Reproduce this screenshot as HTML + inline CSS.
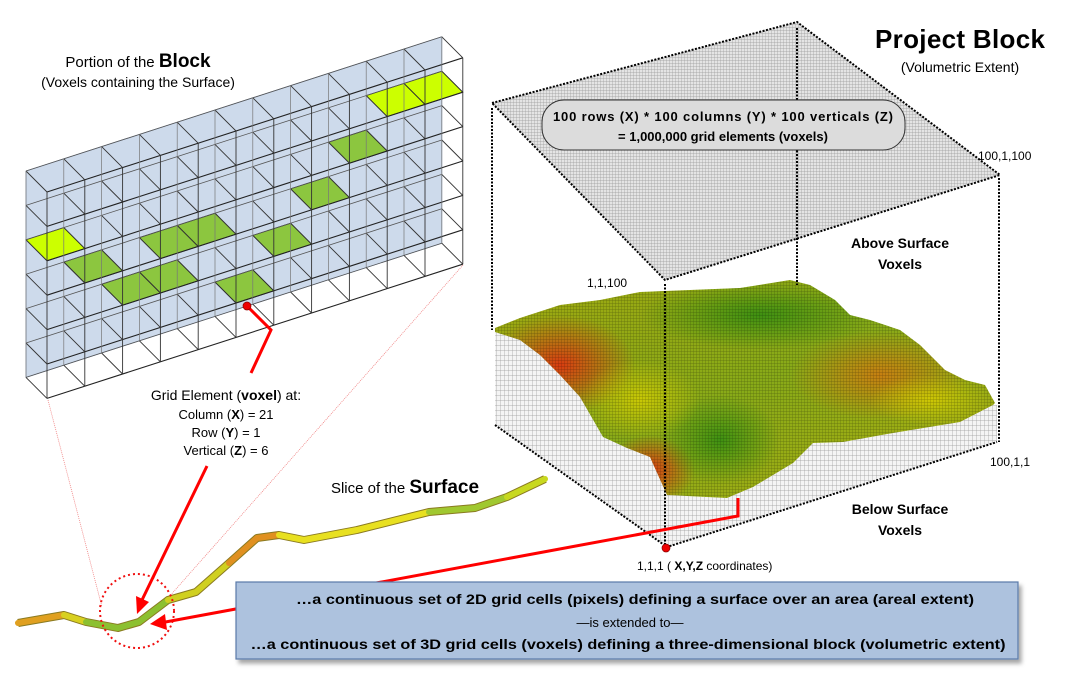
<!DOCTYPE html>
<html><head><meta charset="utf-8"><style>
html,body{margin:0;padding:0;background:#fff;}
svg{display:block;font-family:"Liberation Sans",Arial,sans-serif;}
</style></head><body>
<svg id="s" width="1068" height="678" viewBox="0 0 1068 678" xmlns="http://www.w3.org/2000/svg">
<defs>
<pattern id="mesh" width="3" height="3" patternUnits="userSpaceOnUse"><rect width="3" height="3" fill="#e4e4e4"/><path d="M0 0H3M0 0V3" stroke="#9a9a9a" stroke-width="0.7"/></pattern>
<pattern id="wall" width="4" height="5" patternUnits="userSpaceOnUse"><rect width="4" height="5" fill="#f4f4f4"/><path d="M0 0H4M0 0V5" stroke="#999" stroke-width="0.7"/></pattern>
<pattern id="tmesh" width="3" height="3" patternUnits="userSpaceOnUse"><path d="M0 0H3M0 0V3" stroke="#000" stroke-width="0.7" opacity="0.35"/></pattern>
<linearGradient id="tg" x1="0" y1="0" x2="1" y2="1"><stop offset="0" stop-color="#a0a810"/><stop offset="0.5" stop-color="#88aa18"/><stop offset="1" stop-color="#b0b010"/></linearGradient>
<radialGradient id="red"><stop offset="0" stop-color="#e03010" stop-opacity="0.9"/><stop offset="1" stop-color="#e03010" stop-opacity="0"/></radialGradient>
<radialGradient id="org"><stop offset="0" stop-color="#d07810" stop-opacity="0.85"/><stop offset="1" stop-color="#d07810" stop-opacity="0"/></radialGradient>
<radialGradient id="grn"><stop offset="0" stop-color="#2a8a10" stop-opacity="0.8"/><stop offset="1" stop-color="#2a8a10" stop-opacity="0"/></radialGradient>
<radialGradient id="yel"><stop offset="0" stop-color="#d8d000" stop-opacity="0.8"/><stop offset="1" stop-color="#d8d000" stop-opacity="0"/></radialGradient>
<clipPath id="tc"><polygon points="495,328 520,318 560,305 600,300 640,292 690,290 740,288 790,280 810,285 835,300 850,315 870,320 900,330 920,345 945,370 965,380 985,385 995,403 993,405 960,422 893,433 843,442 813,443 793,463 753,487 727,498 667,495 650,457 627,448 603,437 580,397 560,375 540,355 520,340 495,332"/></clipPath>
<filter id="sh" x="-5%" y="-20%" width="110%" height="150%"><feDropShadow dx="3" dy="4" stdDeviation="2" flood-color="#000" flood-opacity="0.35"/></filter>
</defs>
<rect width="1068" height="678" fill="#fff"/>
<g id="grid"></g>
<line x1="48" y1="400" x2="102" y2="607" stroke="#f08080" stroke-width="0.8" stroke-dasharray="1,1"/>
<line x1="463" y1="265" x2="168" y2="598" stroke="#f08080" stroke-width="0.8" stroke-dasharray="1,1"/>
<polygon points="495,330 520,340 540,355 560,375 580,397 603,437 627,448 650,457 667,495 667,547 495,425" fill="url(#wall)"/>
<polygon points="667,495 727,498 753,487 793,463 813,443 843,442 893,433 960,422 993,405 997,405 997,442 667,547" fill="url(#wall)"/>
<g clip-path="url(#tc)">
<rect x="490" y="275" width="510" height="230" fill="url(#tg)"/>
<ellipse cx="560" cy="365" rx="75" ry="50" fill="url(#red)"/>
<ellipse cx="650" cy="470" rx="45" ry="35" fill="url(#red)"/>
<ellipse cx="880" cy="375" rx="90" ry="45" fill="url(#org)"/>
<ellipse cx="760" cy="315" rx="120" ry="35" fill="url(#grn)"/>
<ellipse cx="720" cy="440" rx="60" ry="45" fill="url(#grn)"/>
<ellipse cx="640" cy="400" rx="60" ry="40" fill="url(#yel)"/>
<ellipse cx="930" cy="400" rx="60" ry="25" fill="url(#yel)"/>
<rect x="490" y="275" width="510" height="230" fill="url(#tmesh)"/>
</g>
<polygon points="492,103 797,22 1000,175 665,280" fill="url(#mesh)"/>
<polygon points="492,103 797,22 1000,175 665,280" fill="none" stroke="#000" stroke-width="2" stroke-dasharray="2,1.5"/>
<g stroke="#000" stroke-width="2" stroke-dasharray="2,1.5" fill="none">
<line x1="492" y1="108" x2="492" y2="330"/>
<line x1="797" y1="28" x2="797" y2="285"/>
<line x1="999" y1="178" x2="999" y2="442"/>
<line x1="665" y1="284" x2="665" y2="548"/>
<polyline points="495,425 667,547 997,442"/>
</g>
<rect x="542" y="100" width="363" height="50" rx="22" fill="#dcdcdc" stroke="#333" stroke-width="1"/>
<text x="723" y="121" font-size="13" font-weight="bold" text-anchor="middle" textLength="340">100 rows (X) * 100 columns (Y) * 100 verticals (Z)</text>
<text x="723" y="141" font-size="13" font-weight="bold" text-anchor="middle">= 1,000,000 grid elements (voxels)</text>
<text x="960" y="48" font-size="26" font-weight="bold" text-anchor="middle" textLength="170">Project Block</text>
<text x="960" y="72" font-size="14" text-anchor="middle">(Volumetric Extent)</text>
<text x="978" y="160" font-size="12">100,1,100</text>
<text x="587" y="287" font-size="12">1,1,100</text>
<text x="990" y="466" font-size="12">100,1,1</text>
<text x="900" y="248" font-size="14" font-weight="bold" text-anchor="middle">Above Surface</text>
<text x="900" y="269" font-size="14" font-weight="bold" text-anchor="middle">Voxels</text>
<text x="900" y="514" font-size="14" font-weight="bold" text-anchor="middle">Below Surface</text>
<text x="900" y="535" font-size="14" font-weight="bold" text-anchor="middle">Voxels</text>
<text x="637" y="570" font-size="12">1,1,1 ( <tspan font-weight="bold">X,Y,Z</tspan> coordinates)</text>
<polyline points="18,623 64,615 86,622 118,628 139,622 168,600 196,592 229,563 257,538 279,535 304,540 357,530 429,512 475,508 507,497 545,479" fill="none" stroke="#8a7a20" stroke-width="8" stroke-linejoin="round"/>
<g fill="none" stroke-width="6" stroke-linejoin="round" stroke-linecap="round">
<polyline points="18,623 64,615" stroke="#e0a020"/>
<polyline points="64,615 86,622" stroke="#d8d020"/>
<polyline points="86,622 118,628 139,622 168,600" stroke="#8cc030"/>
<polyline points="168,600 196,592 229,563" stroke="#d0d020"/>
<polyline points="229,563 257,538 279,535" stroke="#e09020"/>
<polyline points="279,535 304,540 357,530 429,512" stroke="#e8e020"/>
<polyline points="429,512 475,508 507,497" stroke="#a0c830"/>
<polyline points="507,497 545,479" stroke="#c8d820"/>
</g>
<circle cx="137" cy="611" r="37" fill="none" stroke="#f01010" stroke-width="2" stroke-dasharray="2,3"/>
<text x="405" y="493" font-size="15" text-anchor="middle">Slice of the <tspan font-size="19" font-weight="bold">Surface</tspan></text>
<g stroke="#f00" stroke-width="3" fill="none">
<polyline points="738,498 738,516 160,623"/>
<line x1="207" y1="466" x2="142" y2="600"/>
<polyline points="247,306 271,330 251,373"/>
</g>
<polygon points="137,614 136,596 149,602" fill="#f00"/>
<polygon points="150,624 165,614 167,630" fill="#f00"/>
<circle cx="247" cy="306" r="4" fill="#e00" stroke="#800" stroke-width="0.7"/>
<circle cx="666" cy="548" r="4" fill="#e00" stroke="#800" stroke-width="0.7"/>
<rect x="236" y="582" width="782" height="77" fill="#adc2de" stroke="#5a7aa8" stroke-width="1.2" filter="url(#sh)"/>
<text x="635" y="604" font-size="14" font-weight="bold" text-anchor="middle" textLength="678" lengthAdjust="spacingAndGlyphs">…a continuous set of 2D grid cells (pixels) defining a surface over an area (areal extent)</text>
<text x="630" y="627" font-size="13" text-anchor="middle">—is extended to—</text>
<text x="628" y="649" font-size="14" font-weight="bold" text-anchor="middle" textLength="755" lengthAdjust="spacingAndGlyphs">…a continuous set of 3D grid cells (voxels) defining a three-dimensional block (volumetric extent)</text>
<text x="138" y="67" font-size="15" text-anchor="middle">Portion of the <tspan font-size="19" font-weight="bold">Block</tspan></text>
<text x="138" y="87" font-size="14" text-anchor="middle">(Voxels containing the Surface)</text>
<text x="226" y="400" font-size="14" text-anchor="middle">Grid Element (<tspan font-weight="bold">voxel</tspan>) at:</text>
<text x="226" y="419" font-size="13" text-anchor="middle">Column (<tspan font-weight="bold">X</tspan>) = 21</text>
<text x="226" y="437" font-size="13" text-anchor="middle">Row  (<tspan font-weight="bold">Y</tspan>) = 1</text>
<text x="226" y="455" font-size="13" text-anchor="middle">Vertical  (<tspan font-weight="bold">Z</tspan>) = 6</text>
</svg>
<script>
(function(){
var g=document.getElementById('grid'),h='';
function F(i,k){return [47+37.8*i,192+34.4*k-12.2*i];}
function B(i,k){var p=F(i,k);return [p[0]-21,p[1]-21];}
function P(a){return a[0].toFixed(1)+','+a[1].toFixed(1);}
var b1=B(0,0),b2=B(11,0),b3=B(11,6),b4=B(0,6);
h+='<polygon points="'+P(b1)+' '+P(b2)+' '+P(b3)+' '+P(b4)+'" fill="#c4d4e8" fill-opacity="0.85" stroke="#8aa0c0" stroke-width="0.8"/>';
var cells=[[9,1,'#ccff00'],[10,1,'#ccff00'],[8,2,'#8cc63f'],[7,3,'#8cc63f'],[6,4,'#8cc63f'],[0,2,'#ccff00'],[1,3,'#8cc63f'],[2,4,'#8cc63f'],[3,4,'#8cc63f'],[3,3,'#8cc63f'],[4,3,'#8cc63f'],[5,5,'#8cc63f']];
cells.forEach(function(c){h+='<polygon points="'+P(F(c[0],c[1]))+' '+P(F(c[0]+1,c[1]))+' '+P(B(c[0]+1,c[1]))+' '+P(B(c[0],c[1]))+'" fill="'+c[2]+'" stroke="#222" stroke-width="0.8"/>';});
var L=function(a,b,c,w){h+='<line x1="'+a[0].toFixed(1)+'" y1="'+a[1].toFixed(1)+'" x2="'+b[0].toFixed(1)+'" y2="'+b[1].toFixed(1)+'" stroke="'+c+'" stroke-width="'+w+'"/>';};
for(var k=0;k<=6;k++){
 L(B(0,k),B(11,k),'#555',0.8);
 L(F(0,k),F(11,k),'#222',1.1);
 for(var i=0;i<=11;i++)L(F(i,k),B(i,k),'#333',0.9);
}
for(var i=0;i<=11;i++){L(B(i,0),B(i,6),'#777',0.7);L(F(i,0),F(i,6),'#333',0.9);}
g.innerHTML=h;
})();
</script>
</body></html>
